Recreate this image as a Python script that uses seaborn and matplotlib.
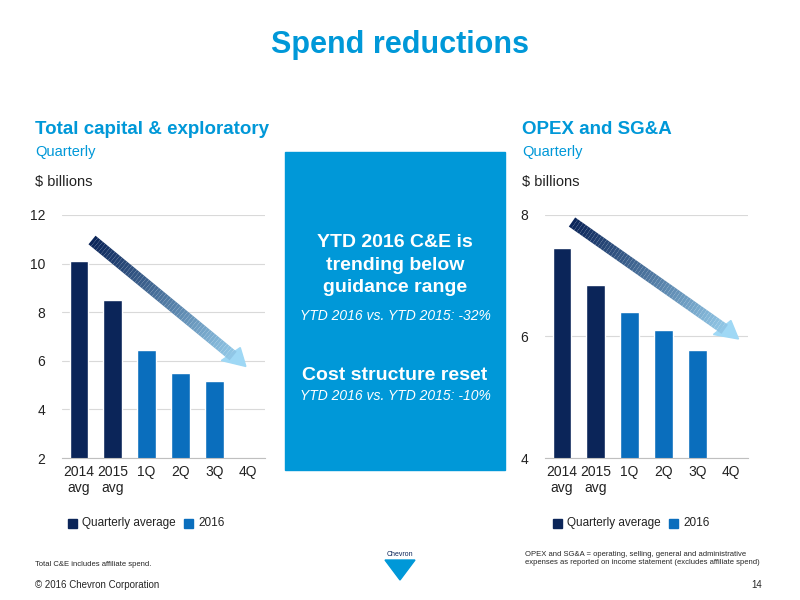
import matplotlib
matplotlib.use("Agg")
import matplotlib.pyplot as plt
import seaborn as sns
import numpy as np
import pandas as pd
from matplotlib.collections import LineCollection
from matplotlib.colors import LinearSegmentedColormap
from matplotlib.patches import Rectangle

sns.set_style("white")
plt.rcParams['font.family'] = ['Liberation Sans', 'DejaVu Sans']

categories = ["2014\navg", "2015\navg", "1Q", "2Q", "3Q", "4Q"]
capex = [10.1, 8.5, 6.45, 5.5, 5.15, np.nan]
opex = [7.45, 6.85, 6.4, 6.1, 5.78, np.nan]
groups = ["Quarterly average", "Quarterly average", "2016", "2016", "2016", "2016"]

DARK = "#0B2559"
BLUE = "#0A6EBD"
CYAN = "#0098D8"

fig = plt.figure(figsize=(8, 6), dpi=100)
W, H = 800, 600
def ax_rect(x0, y0, x1, y1):
    return [x0 / W, 1 - y1 / H, (x1 - x0) / W, (y1 - y0) / H]

fig.text(0.5, 1 - 45 / H, "Spend reductions", ha="center", va="center",
         fontsize=22, fontweight="bold", color=CYAN)

def panel(rect, vals, ymin, ymax, yticks, title, label_x):
    ax = fig.add_axes(rect)
    df = pd.DataFrame({"cat": categories, "val": vals, "grp": groups})
    sns.barplot(data=df, x="cat", y="val", hue="grp", dodge=False,
                palette={"Quarterly average": DARK, "2016": BLUE},
                width=0.55, ax=ax, legend=False, saturation=1)
    ax.set_ylim(ymin, ymax)
    ax.set_yticks(yticks)
    ax.set_xlabel(""); ax.set_ylabel("")
    ax.yaxis.grid(True, color="#D9D9D9", lw=0.8)
    ax.set_axisbelow(True)
    for s in ["top", "right", "left"]:
        ax.spines[s].set_visible(False)
    ax.spines["bottom"].set_color("#BFBFBF")
    ax.tick_params(axis="both", length=0, labelsize=10, colors="#222222")
    ax.tick_params(axis="y", pad=12)
    ax.tick_params(axis="x", pad=5)
    fig.text(label_x / W, 1 - 130 / H, title, fontsize=13.5, fontweight="bold", color=CYAN, va="center")
    fig.text(label_x / W, 1 - 152 / H, "Quarterly", fontsize=10.5, color=CYAN, va="center")
    fig.text(label_x / W, 1 - 182 / H, "$ billions", fontsize=10.5, color="#222222", va="center")
    return ax

panel(ax_rect(62, 215, 265, 458), capex, 2, 12, [2, 4, 6, 8, 10, 12],
      "Total capital & exploratory", 35)
panel(ax_rect(545, 215, 748, 458), opex, 4, 8, [4, 6, 8], "OPEX and SG&A", 522)

cmap = LinearSegmentedColormap.from_list("arr", [DARK, "#9FD8F5"])
def arrow(x0, y0, x1, y1):
    n = 60
    xs = np.linspace(x0, x1, n + 1) / W
    ys = 1 - np.linspace(y0, y1, n + 1) / H
    segs = [[(xs[i], ys[i]), (xs[i + 1], ys[i + 1])] for i in range(n - 2)]
    lc = LineCollection(segs, colors=cmap(np.linspace(0, 0.9, len(segs))), linewidths=8,
                        transform=fig.transFigure, capstyle="butt")
    fig.add_artist(lc)
    dx, dy = xs[-1] - xs[-4], ys[-1] - ys[-4]
    fig.add_artist(plt.matplotlib.patches.FancyArrow(xs[-4], ys[-4], dx * 0.01, dy * 0.01,
                   width=0, head_width=0.032, head_length=0.028, color="#9FD8F5",
                   transform=fig.transFigure, length_includes_head=False))

arrow(92, 240, 238, 360)
arrow(572, 222, 730, 333)

fig.add_artist(Rectangle((285 / W, 1 - 470 / H), 220 / W, 318 / H, color=CYAN,
                         transform=fig.transFigure))
cx = 395 / W
fig.text(cx, 1 - 265 / H, "YTD 2016 C&E is\ntrending below\nguidance range", ha="center",
         va="center", fontsize=14, fontweight="bold", color="white", linespacing=1.45)
fig.text(cx, 1 - 316 / H, "YTD 2016 vs. YTD 2015: -32%", ha="center", va="center",
         fontsize=10, style="italic", color="white")
fig.text(cx, 1 - 375 / H, "Cost structure reset", ha="center", va="center",
         fontsize=14, fontweight="bold", color="white")
fig.text(cx, 1 - 396 / H, "YTD 2016 vs. YTD 2015: -10%", ha="center", va="center",
         fontsize=10, style="italic", color="white")

def legend(x):
    for dx, lab, c in [(0, "Quarterly average", DARK), (116, "2016", BLUE)]:
        fig.add_artist(Rectangle(((x + dx) / W, 1 - 528 / H), 9 / W, 9 / H, color=c,
                                 transform=fig.transFigure))
        fig.text((x + dx + 14) / W, 1 - 523 / H, lab, fontsize=8.5, va="center", color="#222222")
legend(68)
legend(553)

fig.text(35 / W, 1 - 565 / H, "Total C&E includes affiliate spend.", fontsize=5.5, va="center")
fig.text(525 / W, 1 - 558 / H, "OPEX and SG&A = operating, selling, general and administrative\n"
         "expenses as reported on income statement (excludes affiliate spend)", fontsize=5.5, va="center")
fig.text(35 / W, 1 - 585 / H, "© 2016 Chevron Corporation", fontsize=7, va="center")
fig.text(762 / W, 1 - 585 / H, "14", fontsize=7, va="center", ha="right")
fig.text(400 / W, 1 - 555 / H, "Chevron", fontsize=5, ha="center", va="center", color=DARK)
fig.add_artist(plt.Polygon([(385 / W, 1 - 560 / H), (415 / W, 1 - 560 / H), (400 / W, 1 - 580 / H)],
                           color=CYAN, transform=fig.transFigure))

fig.savefig("out.png", dpi=100)
